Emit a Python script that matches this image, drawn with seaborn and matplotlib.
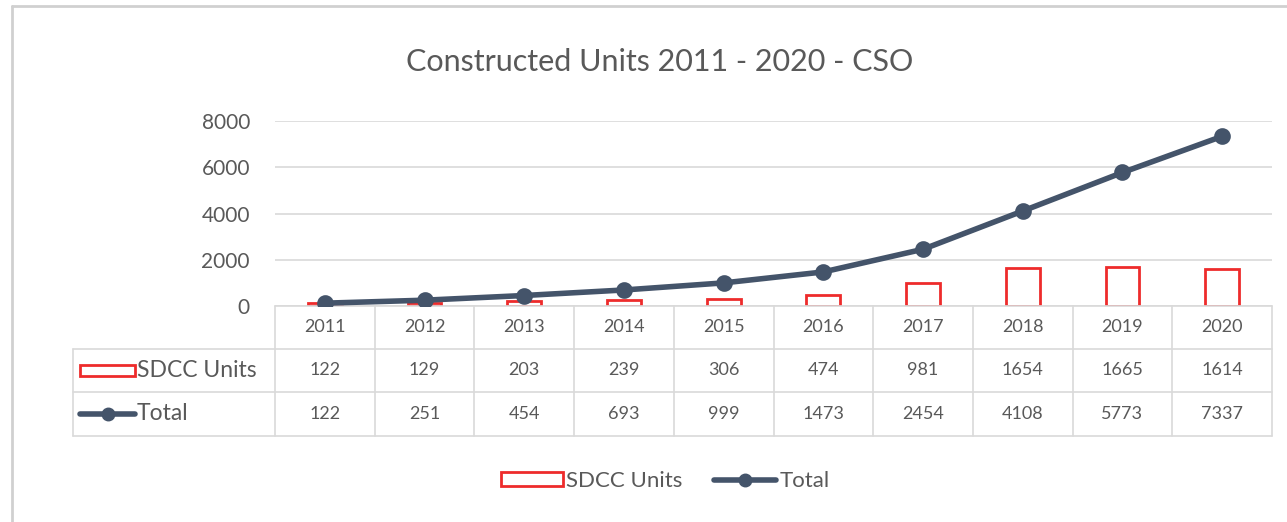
import numpy as np
import matplotlib
matplotlib.use('Agg')
import matplotlib.pyplot as plt
import matplotlib.transforms as mtransforms
from matplotlib.patches import Rectangle, Patch
from matplotlib.lines import Line2D
import seaborn as sns

years = ['2011', '2012', '2013', '2014', '2015', '2016', '2017', '2018', '2019', '2020']
sdcc_units = [122, 129, 203, 239, 306, 474, 981, 1654, 1665, 1614]
total_units = [122, 251, 454, 693, 999, 1473, 2454, 4108, 5773, 7337]
y_ticks = [0, 2000, 4000, 6000, 8000]
title = 'Constructed Units 2011 - 2020 - CSO'

red = '#EE2B2B'
navy = '#44546A'
grey_txt = '#595959'
grid_col = '#D9D9D9'

sns.set_style('white')
plt.rcParams['font.family'] = ['Lato', 'DejaVu Sans']

W, H = 1287, 522
fig = plt.figure(figsize=(W / 100, H / 100), dpi=100)

# plot area in pixels (left, top, right, bottom)
L, T, R, B = 275, 121, 1272, 306
ax = fig.add_axes([L / W, 1 - B / H, (R - L) / W, (B - T) / H])

sns.barplot(x=years, y=sdcc_units, ax=ax, fill=False, color=red,
            width=0.34, linewidth=2, zorder=2)
sns.pointplot(x=years, y=total_units, ax=ax, color=navy, markers='o',
              linewidth=4, markersize=9, zorder=3)

ax.set_xlim(-0.5, len(years) - 0.5)
ax.set_ylim(0, 8000)
ax.set_yticks(y_ticks)
ax.set_yticklabels([str(v) for v in y_ticks], fontsize=15, color=grey_txt)
ax.tick_params(axis='y', length=0, pad=18)
ax.tick_params(axis='x', length=0, labelbottom=False)
ax.set_xlabel('')
ax.set_ylabel('')
for s in ax.spines.values():
    s.set_visible(False)
ax.yaxis.grid(True, color=grid_col, linewidth=1.2)
ax.set_axisbelow(True)

# data table under the plot
tr = mtransforms.blended_transform_factory(ax.transData, ax.transAxes)
cell_w = (R - L) / len(years)


def px_x(px):
    return -0.5 + (px - L) / cell_w


def px_y(py):
    return (B - py) / (B - T)


row_edges = [306, 349, 392, 436]
x_left = px_x(73)
x_right = len(years) - 0.5
line_kw = dict(color=grid_col, linewidth=1.2, transform=tr, clip_on=False)
ax.plot([-0.5, x_right], [px_y(row_edges[0])] * 2, **line_kw)
for ry in row_edges[1:]:
    ax.plot([x_left, x_right], [px_y(ry)] * 2, **line_kw)
ax.plot([x_left, x_left], [px_y(row_edges[1]), px_y(row_edges[3])], **line_kw)
for k in range(len(years) + 1):
    ax.plot([k - 0.5, k - 0.5], [px_y(row_edges[0]), px_y(row_edges[3])], **line_kw)

row_mid = [px_y((row_edges[i] + row_edges[i + 1]) / 2) for i in range(3)]
for i, yr in enumerate(years):
    ax.text(i, row_mid[0], yr, ha='center', va='center', fontsize=13,
            color=grey_txt, transform=tr)
    ax.text(i, row_mid[1], str(sdcc_units[i]), ha='center', va='center',
            fontsize=13, color=grey_txt, transform=tr)
    ax.text(i, row_mid[2], str(total_units[i]), ha='center', va='center',
            fontsize=13, color=grey_txt, transform=tr)

# row labels with legend keys
key_h = (11 / (B - T))
ax.add_patch(Rectangle((px_x(80), row_mid[1] - key_h / 2), px_x(135) - px_x(80), key_h,
                       facecolor='white', edgecolor=red, linewidth=2,
                       transform=tr, clip_on=False))
ax.text(px_x(137), row_mid[1], 'SDCC Units', ha='left', va='center', fontsize=16.5,
        color=grey_txt, transform=tr)
ax.plot([px_x(80), px_x(135)], [row_mid[2]] * 2, color=navy, linewidth=4,
        transform=tr, clip_on=False)
ax.plot([(px_x(80) + px_x(135)) / 2], [row_mid[2]], marker='o', color=navy,
        markersize=9, transform=tr, clip_on=False)
ax.text(px_x(137), row_mid[2], 'Total', ha='left', va='center', fontsize=16.5,
        color=grey_txt, transform=tr)

# title and legend
fig.text(660 / W, 1 - 62 / H, title, ha='center', va='center', fontsize=22,
         color=grey_txt)
handles = [Patch(facecolor='white', edgecolor=red, linewidth=2, label='SDCC Units'),
           Line2D([0], [0], color=navy, linewidth=4, marker='o', markersize=9,
                  label='Total')]
fig.legend(handles=handles, loc='center', bbox_to_anchor=(665 / W, 1 - 481 / H),
           ncol=2, frameon=False, fontsize=16, labelcolor=grey_txt,
           handlelength=2.8, handleheight=0.55, handletextpad=0.15, columnspacing=1.4)

# chart border (top and left edges visible)
fig.add_artist(Line2D([12 / W, 1], [1 - 6 / H, 1 - 6 / H], color='#D0D0D0',
                      linewidth=2, transform=fig.transFigure))
fig.add_artist(Line2D([12 / W, 12 / W], [0, 1 - 6 / H], color='#D0D0D0',
                      linewidth=2, transform=fig.transFigure))

fig.savefig('out.png', dpi=100)
